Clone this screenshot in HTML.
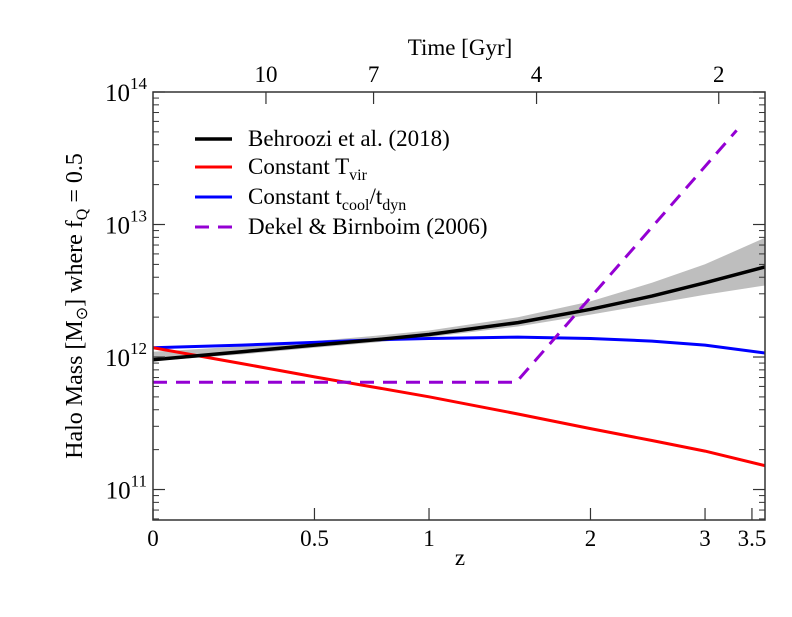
<!DOCTYPE html>
<html><head><meta charset="utf-8"><style>
html,body{margin:0;padding:0;background:#fff;}
svg text{font-family:"Liberation Serif",serif;fill:#000;}
</style></head><body>
<svg id="chart" width="792" height="612" viewBox="0 0 792 612" xmlns="http://www.w3.org/2000/svg">
<g id="marks"></g><g id="axes"></g>
</svg>
<script>
const zSamples=[0,0.25,0.5,0.75,1,1.5,2,2.5,3,3.65];
const behrooziLog=[11.98,12.04,12.09,12.13,12.17,12.26,12.36,12.46,12.56,12.68];
const bandUpperLog=[12.04,12.08,12.12,12.16,12.2,12.3,12.42,12.56,12.7,12.9];
const bandLowerLog=[11.97,12.02,12.07,12.11,12.15,12.23,12.32,12.4,12.47,12.54];
const constTvirLog=[12.07,11.95,11.85,11.77,11.70,11.57,11.46,11.37,11.29,11.18];
const constTcoolLog=[12.07,12.09,12.11,12.13,12.14,12.15,12.14,12.12,12.09,12.03];
const dekelZ=[0,1.49,3.33];
const dekelLog=[11.81,11.81,13.71];
const zTicks=[0,0.5,1,2,3,3.5];
const zTickLabels=["0","0.5","1","2","3","3.5"];
const timeTickZ=[0.328,0.74,1.62,3.14];
const timeTickLabels=["10","7","4","2"];
const yDecades=[11,12,13,14];

const L=153,R=765,T=92,B=520;
const xMax=Math.log10(4.65), yMin=10.77, yMax=14;
const X=z=>L+Math.log10(1+z)/xMax*(R-L);
const Y=l=>B-(l-yMin)/(yMax-yMin)*(B-T);
const NS="http://www.w3.org/2000/svg";
const marks=document.getElementById('marks'), axes=document.getElementById('axes');
function mk(tag,attrs,parent){const e=document.createElementNS(NS,tag);for(const k in attrs)e.setAttribute(k,attrs[k]);parent.appendChild(e);return e;}
const pts=(zs,ls)=>zs.map((z,i)=>X(z).toFixed(1)+','+Y(ls[i]).toFixed(1)).join(' ');

const cp=mk('clipPath',{id:'clip'},marks);mk('rect',{x:L,y:T,width:R-L,height:B-T},cp);
const g=mk('g',{'clip-path':'url(#clip)'},marks);
const band=mk('polygon',{points:pts(zSamples,bandUpperLog)+' '+pts(zSamples.slice().reverse(),bandLowerLog.slice().reverse()),fill:'#bebebe'},g);


const sBlue=mk('polyline',{points:pts(zSamples,constTcoolLog),fill:'none',stroke:'#0000ff','stroke-width':3,'stroke-linejoin':'round'},g);


const sRed=mk('polyline',{points:pts(zSamples,constTvirLog),fill:'none',stroke:'#ff0000','stroke-width':3,'stroke-linejoin':'round'},g);


const sPur=mk('polyline',{points:pts(dekelZ,dekelLog),fill:'none',stroke:'#9400d3','stroke-width':3,'stroke-dasharray':'14,9'},g);


const sBlk=mk('polyline',{points:pts(zSamples,behrooziLog),fill:'none',stroke:'#000','stroke-width':3.5,'stroke-linejoin':'round'},g);



const frame=mk('rect',{x:L,y:T,width:R-L,height:B-T,fill:'none',stroke:'#333','stroke-width':1.5},axes);


yDecades.forEach(d=>{
  const y=Y(d);
  mk('line',{x1:L,x2:L+12,y1:y,y2:y,stroke:'#333','stroke-width':1.2},axes);
  mk('line',{x1:R,x2:R-12,y1:y,y2:y,stroke:'#333','stroke-width':1.2},axes);
  const t=mk('text',{x:L-6,y:y+9,'text-anchor':'end','font-size':25},axes);
  t.innerHTML='10<tspan dy="-12" font-size="17">'+d+'</tspan>';
  
  
  for(let m=2;m<=9;m++){const l=d-1+Math.log10(m);if(l<yMin)continue;const yy=Y(l);
    mk('line',{x1:L,x2:L+6,y1:yy,y2:yy,stroke:'#333','stroke-width':1},axes);
    mk('line',{x1:R,x2:R-6,y1:yy,y2:yy,stroke:'#333','stroke-width':1},axes);}
});
zTicks.forEach((z,i)=>{
  const x=X(z);
  mk('line',{x1:x,x2:x,y1:B,y2:B-12,stroke:'#333','stroke-width':1.2},axes);
  const t=mk('text',{x:x,y:B+26,'text-anchor':'middle','font-size':23},axes);
  t.textContent=zTickLabels[i];
  
  
});
timeTickZ.forEach((z,i)=>{
  const x=X(z);
  mk('line',{x1:x,x2:x,y1:T,y2:T+12,stroke:'#333','stroke-width':1.2},axes);
  const t=mk('text',{x:x,y:T-10,'text-anchor':'middle','font-size':23},axes);
  t.textContent=timeTickLabels[i];
  
  
});
</script>
<svg style="position:absolute;left:0;top:0" width="792" height="612" xmlns="http://www.w3.org/2000/svg">
<text x="460" y="55" text-anchor="middle" font-size="23">Time [Gyr]</text>
<text x="460" y="565" text-anchor="middle" font-size="23">z</text>
<text transform="translate(82,306) rotate(-90)" text-anchor="middle" font-size="24">Halo Mass [M<tspan dy="5" font-size="16">⊙</tspan><tspan dy="-5">] where f</tspan><tspan dy="5" font-size="16">Q</tspan><tspan dy="-5"> = 0.5</tspan></text>
<g>
<line x1="195" x2="232" y1="139" y2="139" stroke="#000" stroke-width="3.5"/>
<text x="248" y="146" font-size="23">Behroozi et al. (2018)</text>
<line x1="195" x2="232" y1="167" y2="167" stroke="#f00" stroke-width="3"/>
<text x="248" y="174" font-size="23">Constant T<tspan dy="6" font-size="16">vir</tspan></text>
<line x1="195" x2="232" y1="197" y2="197" stroke="#00f" stroke-width="3"/>
<text x="248" y="204" font-size="23">Constant t<tspan dy="6" font-size="16">cool</tspan><tspan dy="-6">/t</tspan><tspan dy="6" font-size="16">dyn</tspan></text>
<line x1="195" x2="232" y1="227" y2="227" stroke="#9400d3" stroke-width="3" stroke-dasharray="14,9"/>
<text x="248" y="234" font-size="23">Dekel &amp; Birnboim (2006)</text>
</g>
</svg>
</body></html>
